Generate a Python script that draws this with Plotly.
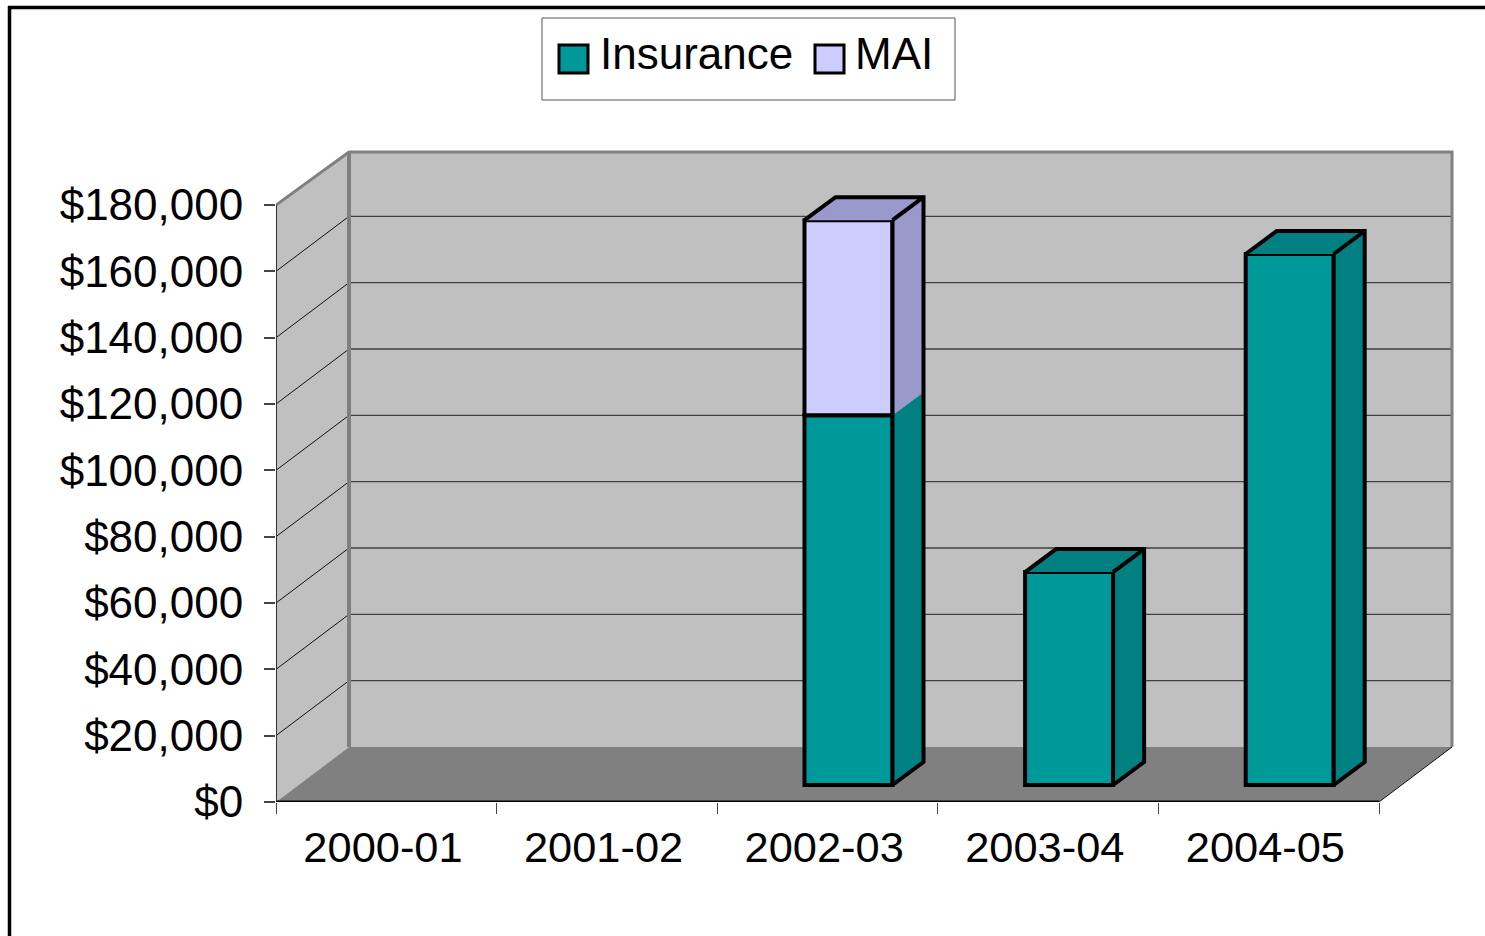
import plotly.graph_objects as go

# ---- data ----
categories = ["2000-01", "2001-02", "2002-03", "2003-04", "2004-05"]
insurance = [None, None, 111500, 64200, 160100]
mai = [None, None, 58800, None, None]
y_ticks = list(range(0, 200000, 20000))
series_names = ["Insurance", "MAI"]

# ---- style / geometry ----
W, H = 1485, 936
L, R, T, B = 276, 1456, 148, 802      # plot area in pixels (a little room past the walls)
PX_X = 220.6                          # pixels per category
PX_Y = 597 / 180000                   # pixels per dollar
X_MAX = (R - L) / PX_X
Y_MAX = (B - T) / PX_Y
WALL_DX, WALL_DY = 73 / PX_X, 55 / PX_Y
WALL_TOP_DY = 53 / PX_Y
BAR_W = 88 / PX_X
BAR_SHIFT_X, BAR_SHIFT_Y = 21 / PX_X, 17 / PX_Y
DEPTH_X, DEPTH_Y = 31 / PX_X, 23 / PX_Y
TEAL, TEAL_D = "#009999", "#008080"
LAV, LAV_D = "#CCCCFF", "#9999CC"
WALL, FLOOR, EDGE = "#C0C0C0", "#808080", "#808080"
FONT = "Liberation Sans, Arial, sans-serif"
FS = 44
BAR_LINE = 4
n = len(categories)


def poly(xs, ys, fill=None, line=None, width=3):
    return go.Scatter(
        x=xs, y=ys, mode="lines", showlegend=False, hoverinfo="skip",
        fill="toself" if fill else None, fillcolor=fill,
        line=dict(color=line or "rgba(0,0,0,0)", width=width if line else 0),
    )


def shape_path(xs, ys, fill=None, line=None, width=1, close=True):
    p = "M" + " L".join(f"{a},{b}" for a, b in zip(xs, ys)) + (" Z" if close else "")
    return dict(type="path", path=p, xref="x", yref="y", layer="below",
                fillcolor=fill or "rgba(0,0,0,0)",
                line=dict(color=line or "rgba(0,0,0,0)", width=width if line else 0))


shapes = []
ymax = y_ticks[-1]
wall_top = ymax + WALL_TOP_DY
# back wall, side wall, floor
shapes.append(shape_path([WALL_DX, n + WALL_DX, n + WALL_DX, WALL_DX],
                         [WALL_DY, WALL_DY, wall_top, wall_top], fill=WALL))
shapes.append(shape_path([0, WALL_DX, WALL_DX, 0], [0, WALL_DY, wall_top, ymax], fill=WALL))
shapes.append(shape_path([0, n, n + WALL_DX, WALL_DX], [0, 0, WALL_DY, WALL_DY], fill=FLOOR))
# grid lines
for v in y_ticks[1:-1]:
    shapes.append(shape_path([WALL_DX, n + WALL_DX], [v + WALL_DY, v + WALL_DY],
                             line="#404040", width=1.3, close=False))
for v in y_ticks[1:-1]:
    shapes.append(shape_path([0, WALL_DX], [v, v + WALL_DY], line="#111111", width=1, close=False))
# wall edges
shapes.append(shape_path([0, WALL_DX, n + WALL_DX, n + WALL_DX],
                         [ymax, wall_top, wall_top, WALL_DY], line=EDGE, width=3, close=False))
shapes.append(shape_path([WALL_DX, WALL_DX], [WALL_DY, wall_top], line=EDGE, width=4, close=False))
shapes.append(shape_path([0, 0], [0, ymax], line="#333333", width=2, close=False))
shapes.append(shape_path([0, n], [0, 0], line="#000000", width=3, close=False))
shapes.append(shape_path([n, n + WALL_DX], [0, WALL_DY], line="#111111", width=1, close=False))

fig = go.Figure()
centers = [i + 0.5 + BAR_SHIFT_X for i in range(n)]
base_ins = [BAR_SHIFT_Y] * n
base_mai = [BAR_SHIFT_Y + (a or 0) for a in insurance]
fig.add_bar(x=centers, y=insurance, base=base_ins, width=BAR_W, name=series_names[0],
            marker=dict(color=TEAL, line=dict(color="black", width=BAR_LINE)), showlegend=False)
fig.add_bar(x=centers, y=mai, base=base_mai, width=BAR_W, name=series_names[1],
            marker=dict(color=LAV, line=dict(color="black", width=BAR_LINE)), showlegend=False)

for i, c in enumerate(centers):
    if insurance[i] is None:
        continue
    xr = c + BAR_W / 2
    xl = c - BAR_W / 2
    y0 = BAR_SHIFT_Y
    y1 = y0 + insurance[i]
    y2 = y1 + (mai[i] or 0)
    # side faces
    fig.add_trace(poly([xr, xr + DEPTH_X, xr + DEPTH_X, xr],
                       [y0, y0 + DEPTH_Y, y1 + DEPTH_Y, y1], fill=TEAL_D))
    if mai[i]:
        fig.add_trace(poly([xr, xr + DEPTH_X, xr + DEPTH_X, xr],
                           [y1, y1 + DEPTH_Y, y2 + DEPTH_Y, y2], fill=LAV_D))
    # top face
    fig.add_trace(poly([xl, xl + DEPTH_X, xr + DEPTH_X, xr],
                       [y2, y2 + DEPTH_Y, y2 + DEPTH_Y, y2],
                       fill=LAV_D if mai[i] else TEAL_D))
    # outline of the block's depth
    fig.add_trace(poly([xr, xr + DEPTH_X, xr + DEPTH_X, xl + DEPTH_X, xl, None,
                        xr + DEPTH_X, xr],
                       [y0, y0 + DEPTH_Y, y2 + DEPTH_Y, y2 + DEPTH_Y, y2, None,
                        y2 + DEPTH_Y, y2], line="black", width=BAR_LINE))
    # front right edge redrawn over the side face joint
    fig.add_trace(poly([xr, xr], [y0, y2], line="black", width=BAR_LINE))


def px(x):
    return (x - L) / (R - L)


def py(y):
    return (B - y) / (B - T)


def rect(x0, y0, x1, y1, fill, line, width):
    return dict(type="rect", xref="paper", yref="paper", layer="above",
                x0=px(x0), x1=px(x1), y0=py(y0), y1=py(y1),
                fillcolor=fill, line=dict(color=line, width=width))


# outer frame (top and left edges of the chart area)
shapes.append(dict(type="path", xref="paper", yref="paper", layer="above",
                   path=f"M{px(9.5)},{py(H + 5)} L{px(9.5)},{py(7.5)} L{px(W + 5)},{py(7.5)}",
                   line=dict(color="black", width=3.5)))
# legend
shapes.append(rect(542, 18, 955, 100, "white", "#555555", 1))
shapes.append(rect(559, 45, 588, 73, TEAL, "black", 3))
shapes.append(rect(815, 45, 844, 73, LAV, "black", 3))
annotations = [
    dict(text=series_names[0], xref="paper", yref="paper", x=px(598), y=py(54), xanchor="left",
         yanchor="middle", showarrow=False, font=dict(family=FONT, size=FS, color="black")),
    dict(text=series_names[1], xref="paper", yref="paper", x=px(853), y=py(54), xanchor="left",
         yanchor="middle", showarrow=False, font=dict(family=FONT, size=FS, color="black")),
]

fig.update_layout(
    width=W, height=H, margin=dict(l=L, r=W - R, t=T, b=H - B),
    paper_bgcolor="white", plot_bgcolor="white", barmode="overlay", showlegend=False,
    shapes=shapes, annotations=annotations,
    font=dict(family=FONT, size=FS, color="black"),
    xaxis=dict(range=[0, X_MAX], tickmode="array",
               tickvals=[i + 0.485 for i in range(n)], ticktext=categories,
               tickfont=dict(size=43.4),
               ticks="", showgrid=False, zeroline=False, showline=False,
               ticklabelstandoff=16,
               minor=dict(tickmode="array", tickvals=list(range(n + 1)), ticks="outside",
                          ticklen=11, tickwidth=1, tickcolor="#444444", showgrid=False)),
    yaxis=dict(range=[0, Y_MAX], tickmode="array", tickvals=y_ticks,
               ticktext=[f"${v:,}" for v in y_ticks], ticks="outside", ticklen=11,
               ticklabelstandoff=12,
               tickwidth=1.5, tickcolor="#444444", showgrid=False, zeroline=False, showline=False),
)

fig.write_html("out.html", config=dict(displayModeBar=False),
               post_script="document.body.style.margin='0';")
